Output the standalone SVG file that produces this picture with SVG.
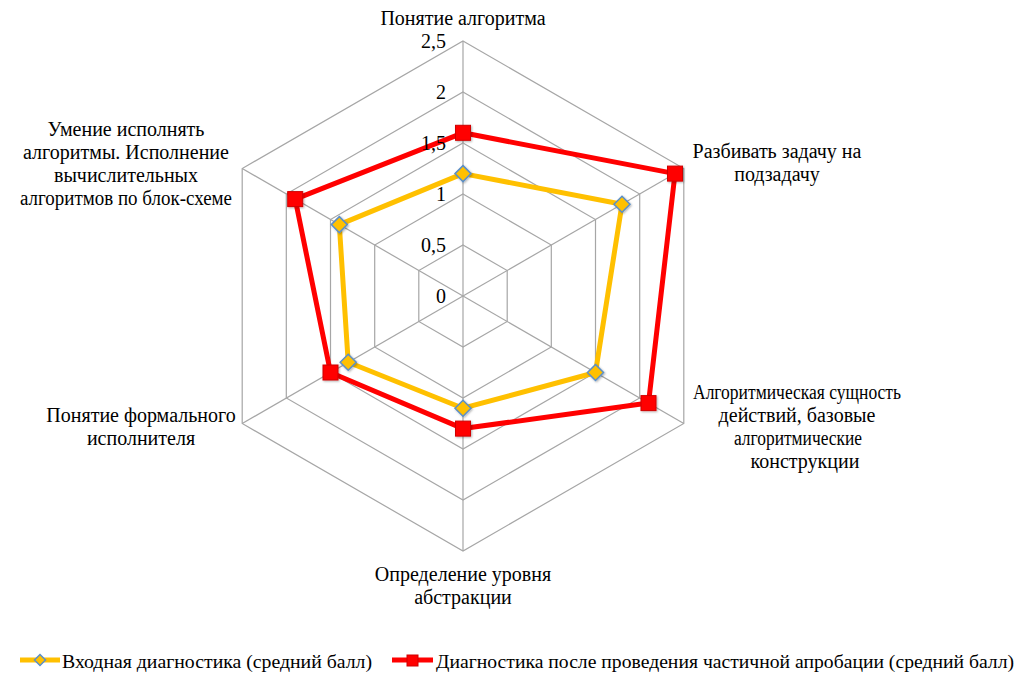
<svg xmlns="http://www.w3.org/2000/svg" width="1020" height="675" viewBox="0 0 1020 675">
<style>
.grid{fill:none;stroke:#A6A6A6;stroke-width:1.2}
.lbl{font-family:"Liberation Serif","Times New Roman",serif;font-size:20px;fill:#000}
.leg{font-family:"Liberation Serif","Times New Roman",serif;font-size:19.4px;fill:#000}
.tick{font-family:"Liberation Serif","Times New Roman",serif;font-size:20px;fill:#000;text-anchor:end;dominant-baseline:central}
.c{text-anchor:middle}
.sy{fill:none;stroke:#FFC000;stroke-width:5;stroke-linejoin:round}
.sr{fill:none;stroke:#FF0000;stroke-width:5;stroke-linejoin:round}
.dm{fill:#FFC000;stroke:#5B8FC7;stroke-width:1.5}
.sq{fill:#FF0000;stroke:#D00000;stroke-width:1}
</style>
<defs>
<filter id="sh" x="-50%" y="-50%" width="200%" height="200%"><feDropShadow dx="1" dy="1" stdDeviation="1.2" flood-color="#000" flood-opacity="0.3"/></filter>
<path id="dia" d="M0,-8 L8,0 L0,8 L-8,0 Z"/>
<rect id="sqr" x="-7.5" y="-7.5" width="15" height="15"/>
</defs>
<rect width="1020" height="675" fill="#fff"/>
<g id="grid">
<polygon class="grid" points="463,245 507.2,270.5 507.2,321.5 463,347 418.8,321.5 418.8,270.5"/>
<polygon class="grid" points="463,194 551.3,245 551.3,347 463,398 374.7,347 374.7,245"/>
<polygon class="grid" points="463,143 595.5,219.5 595.5,372.5 463,449 330.5,372.5 330.5,219.5"/>
<polygon class="grid" points="463,92 639.7,194 639.7,398 463,500 286.3,398 286.3,194"/>
<polygon class="grid" points="463,41 683.8,168.5 683.8,423.5 463,551 242.2,423.5 242.2,168.5"/>
<line class="grid" x1="463" y1="296" x2="463" y2="41"/>
<line class="grid" x1="463" y1="296" x2="683.8" y2="168.5"/>
<line class="grid" x1="463" y1="296" x2="683.8" y2="423.5"/>
<line class="grid" x1="463" y1="296" x2="463" y2="551"/>
<line class="grid" x1="463" y1="296" x2="242.2" y2="423.5"/>
<line class="grid" x1="463" y1="296" x2="242.2" y2="168.5"/>
</g>
<g id="series-input">
<polygon class="sy" points="463,173.6 622,204.2 595.5,372.5 463,408.2 348.2,362.3 339.3,224.6"/>
<use href="#dia" class="dm" x="463" y="173.6" filter="url(#sh)"/>
<use href="#dia" class="dm" x="622" y="204.2" filter="url(#sh)"/>
<use href="#dia" class="dm" x="595.5" y="372.5" filter="url(#sh)"/>
<use href="#dia" class="dm" x="463" y="408.2" filter="url(#sh)"/>
<use href="#dia" class="dm" x="348.2" y="362.3" filter="url(#sh)"/>
<use href="#dia" class="dm" x="339.3" y="224.6" filter="url(#sh)"/>
</g>
<g id="series-after">
<polygon class="sr" points="463,132.8 675,173.6 648.5,403.1 463,428.6 330.5,372.5 295.2,199.1"/>
<use href="#sqr" class="sq" x="463" y="132.8" filter="url(#sh)"/>
<use href="#sqr" class="sq" x="675" y="173.6" filter="url(#sh)"/>
<use href="#sqr" class="sq" x="648.5" y="403.1" filter="url(#sh)"/>
<use href="#sqr" class="sq" x="463" y="428.6" filter="url(#sh)"/>
<use href="#sqr" class="sq" x="330.5" y="372.5" filter="url(#sh)"/>
<use href="#sqr" class="sq" x="295.2" y="199.1" filter="url(#sh)"/>
</g>
<g id="ticks">
<text class="tick" x="446" y="296">0</text>
<text class="tick" x="446" y="245">0,5</text>
<text class="tick" x="446" y="194">1</text>
<text class="tick" x="446" y="143">1,5</text>
<text class="tick" x="446" y="92">2</text>
<text class="tick" x="446" y="41">2,5</text>
</g>
<g id="axis-top"><text class="lbl c" x="463" y="25">Понятие алгоритма</text></g>
<g id="axis-ur"><text class="lbl c" x="777" y="158">Разбивать задачу на</text><text class="lbl c" x="777" y="181">подзадачу</text></g>
<g id="axis-lr"><text class="lbl c" x="797" y="399" textLength="208" lengthAdjust="spacingAndGlyphs">Алгоритмическая сущность</text><text class="lbl c" x="797" y="422">действий, базовые</text><text class="lbl c" x="798" y="445" textLength="128" lengthAdjust="spacingAndGlyphs">алгоритмические</text><text class="lbl c" x="805" y="468">конструкции</text></g>
<g id="axis-bottom"><text class="lbl c" x="463" y="581">Определение уровня</text><text class="lbl c" x="463" y="604">абстракции</text></g>
<g id="axis-ll"><text class="lbl c" x="141" y="422">Понятие формального</text><text class="lbl c" x="141" y="445">исполнителя</text></g>
<g id="axis-ul"><text class="lbl c" x="126" y="136">Умение исполнять</text><text class="lbl c" x="126" y="159">алгоритмы. Исполнение</text><text class="lbl c" x="126" y="182">вычислительных</text><text class="lbl c" x="126" y="205" textLength="212" lengthAdjust="spacingAndGlyphs">алгоритмов по блок-схеме</text></g>
<g id="legend">
<line x1="20" y1="660" x2="60" y2="660" stroke="#FFC000" stroke-width="5"/>
<path d="M40,654.5 L45.5,660 L40,665.5 L34.5,660 Z" class="dm"/>
<text class="leg" x="62" y="668" textLength="310" lengthAdjust="spacingAndGlyphs">Входная диагностика (средний балл)</text>
<line x1="392" y1="660" x2="433" y2="660" stroke="#FF0000" stroke-width="5"/>
<rect x="407" y="655" width="11" height="11" class="sq"/>
<text class="leg" x="436" y="668" textLength="578" lengthAdjust="spacingAndGlyphs">Диагностика после проведения частичной апробации (средний балл)</text>
</g>
</svg>
